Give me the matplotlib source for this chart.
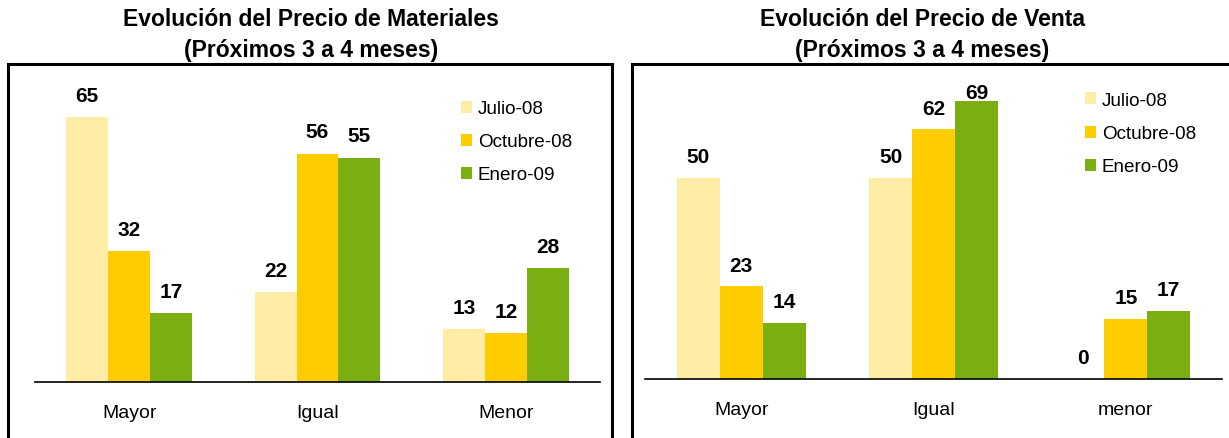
import numpy as np
import matplotlib
matplotlib.use("Agg")
from matplotlib import pyplot as plt
from matplotlib.patches import Rectangle

plt.rcParams['font.family'] = ['Liberation Sans', 'DejaVu Sans']

series = ['Julio-08', 'Octubre-08', 'Enero-09']
colors = ['#FFECA6', '#FFCC00', '#7BAE10']

cats_mat = ['Mayor', 'Igual', 'Menor']
julio_mat = [65, 22, 13]
octubre_mat = [32, 56, 12]
enero_mat = [17, 55, 28]

cats_venta = ['Mayor', 'Igual', 'menor']
julio_venta = [50, 50, 0]
octubre_venta = [23, 62, 15]
enero_venta = [14, 69, 17]

fig = plt.figure(figsize=(12.29, 4.39), dpi=100)


def draw_panel(ax, cats, values, legend_pos):
    x = np.arange(len(cats))
    w = 0.223
    for i, (vals, col, name) in enumerate(zip(values, colors, series)):
        pos = x + (i - 1) * w
        ax.bar(pos, vals, width=w, color=col, label=name, zorder=2)
        for p, v in zip(pos, vals):
            # etiqueta encima de la barra (limitada al area del grafico)
            ax.text(p, min(v + 5.3, 71.2), str(v), ha='center', va='center',
                    fontsize=15, fontweight='bold')
    ax.set_xlim(-0.5, 2.5)
    ax.set_ylim(0, 75)
    ax.set_xticks(x)
    ax.set_xticklabels(cats, fontsize=14)
    ax.tick_params(axis='x', length=0, pad=16)
    ax.set_yticks([])
    for s in ['top', 'right', 'left']:
        ax.spines[s].set_visible(False)
    ax.spines['bottom'].set_linewidth(1.2)
    ax.set_facecolor('none')
    ax.legend(loc='upper left', bbox_to_anchor=legend_pos, frameon=False,
              fontsize=13.6, handlelength=0.6, handleheight=0.6,
              handletextpad=0.3, labelspacing=0.85, borderaxespad=0)


ax1 = fig.add_axes([35 / 1229, 56 / 439, 565 / 1229, 306 / 439])
draw_panel(ax1, cats_mat, [julio_mat, octubre_mat, enero_mat], (0.74, 0.945))
ax2 = fig.add_axes([645 / 1229, 59 / 439, 577 / 1229, 302 / 439])
draw_panel(ax2, cats_venta, [julio_venta, octubre_venta, enero_venta], (0.749, 0.975))

# marcos de los paneles
fig.patches.append(Rectangle((8 / 1229, -0.05), 604 / 1229, (439 - 65) / 439 + 0.05,
                             transform=fig.transFigure, fill=False,
                             edgecolor='black', linewidth=2.2))
fig.patches.append(Rectangle((632 / 1229, -0.05), 620 / 1229, (439 - 65) / 439 + 0.05,
                             transform=fig.transFigure, fill=False,
                             edgecolor='black', linewidth=2.2))

for xc, txt in [(311, 'Evolución del Precio de Materiales'),
                (922, 'Evolución del Precio de Venta')]:
    fig.text(xc / 1229, 1 - 20 / 439, txt,
             ha='center', va='center', fontsize=16.5, fontweight='bold')
    fig.text(xc / 1229, 1 - 50 / 439, '(Próximos 3 a 4 meses)',
             ha='center', va='center', fontsize=16.5, fontweight='bold')

fig.savefig('out.png', dpi=100)
